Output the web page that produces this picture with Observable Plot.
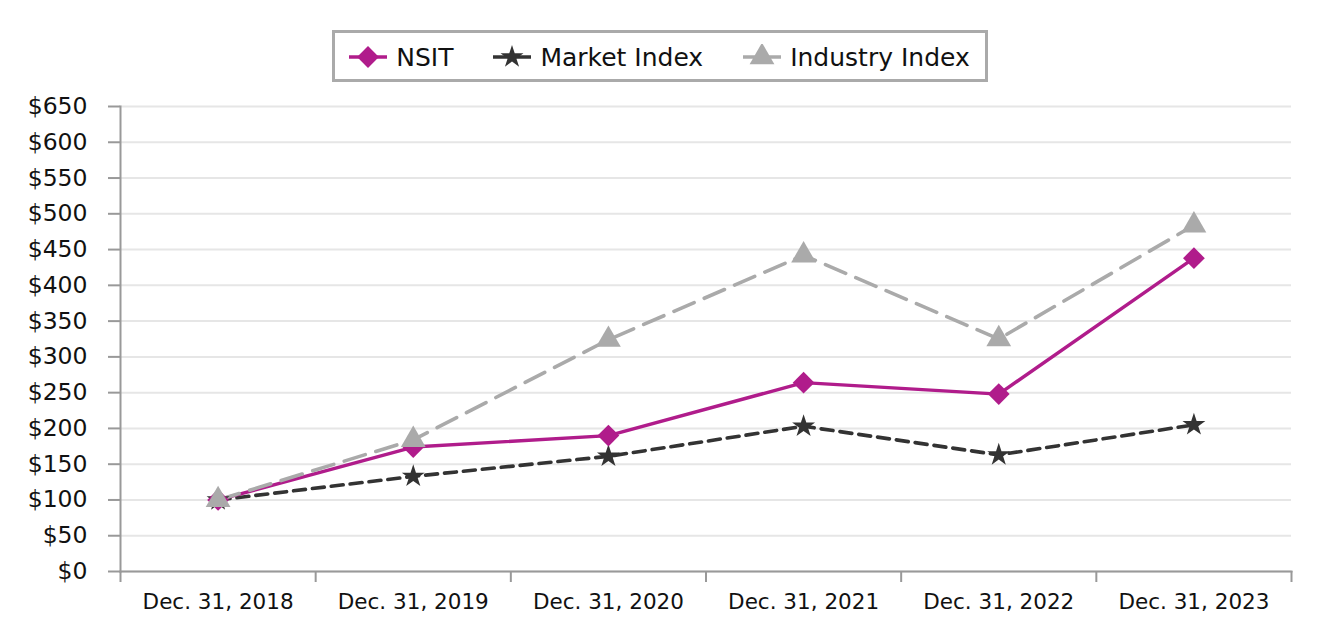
<!DOCTYPE html>
<html>
<head>
<meta charset="utf-8">
<script src="https://cdn.jsdelivr.net/npm/d3@7"></script>
<script src="https://cdn.jsdelivr.net/npm/@observablehq/plot@0.6"></script>
<style>
  html, body { margin: 0; padding: 0; background: #fff; }
  body { width: 1320px; height: 640px; overflow: hidden; font-family: "DejaVu Sans", Verdana, sans-serif; }
  #legendWrap { height: 82px; display: flex; justify-content: center; align-items: flex-end; }
  #legend { box-sizing: border-box; height: 52px; border: 3px solid #aaaaaa; display: flex; align-items: center; padding: 2px 15px 0 14px; font-size: 25px; color: #111; }
  .item { display: flex; align-items: center; }
  .item + .item { margin-left: 40px; }
  .item svg { margin-right: 9px; }
</style>
</head>
<body>
<div id="legendWrap"><div id="legend"></div></div>
<div id="chart"></div>
<script>
const dates = ["Dec. 31, 2018", "Dec. 31, 2019", "Dec. 31, 2020", "Dec. 31, 2021", "Dec. 31, 2022", "Dec. 31, 2023"];
const nsit = [100, 174, 190, 264, 248, 438];
const market = [100, 133, 161, 203, 163, 205];
const industry = [100, 184, 324, 442, 325, 484];
const yTicks = [0, 50, 100, 150, 200, 250, 300, 350, 400, 450, 500, 550, 600, 650];

const seriesInfo = [
  {name: "NSIT", values: nsit, color: "#b01c8b", dash: null, width: 3.4, symbol: "diamond2", r: 9.8},
  {name: "Market Index", values: market, color: "#333333", dash: "12,7", width: 3.6, symbol: "star", r: 7.2},
  {name: "Industry Index", values: industry, color: "#aaaaaa", dash: "22,11", width: 3.6, symbol: "triangle", r: 9.2}
];

const rows = dates.map((d, i) => ({i, date: d}));
const lineMarks = [];
const drawOrder = [seriesInfo[1], seriesInfo[0], seriesInfo[2]];
for (const s of drawOrder) {
  const data = rows.map(r => ({i: r.i, v: s.values[r.i]}));
  lineMarks.push(Plot.line(data, {x: "i", y: "v", stroke: s.color, strokeWidth: s.width, strokeDasharray: s.dash, strokeLinejoin: "miter"}));
}
for (const s of drawOrder) {
  const data = rows.map(r => ({i: r.i, v: s.values[r.i]}));
  lineMarks.push(Plot.dot(data, {x: "i", y: "v", symbol: () => s.symbol, r: s.r, fill: s.color, stroke: "none"}));
}

const chart = Plot.plot({
  width: 1320,
  height: 558,
  marginLeft: 120,
  marginRight: 29,
  marginTop: 24,
  marginBottom: 69,
  style: {fontFamily: "'DejaVu Sans', Verdana, sans-serif", background: "#fff", color: "#111"},
  x: {type: "linear", domain: [-0.5, dates.length - 0.5], axis: null, label: null},
  y: {domain: [0, 650], axis: null, label: null},
  symbol: {type: "identity"},
  marks: [
    Plot.gridY(yTicks, {stroke: "#e6e6e6", strokeWidth: 2, strokeOpacity: 1}),
    Plot.axisY(yTicks, {label: null, tickFormat: d => "$" + d, tickSize: 12, tickPadding: 21, fontSize: 23.5, stroke: "#999", strokeWidth: 2}),
    Plot.axisX(d3.range(-0.5, dates.length, 1), {label: null, tickFormat: () => "", tickSize: 11, stroke: "#999", strokeWidth: 2}),
    Plot.axisX(d3.range(dates.length), {label: null, tickFormat: i => dates[i], tickSize: 0, tickPadding: 22, fontSize: 21.5}),
    Plot.frame({anchor: "left", stroke: "#999", strokeWidth: 2}),
    Plot.frame({anchor: "bottom", stroke: "#999", strokeWidth: 2}),
    ...lineMarks
  ]
});
document.getElementById("chart").appendChild(chart);

// Legend
const legend = document.getElementById("legend");
const symMap = {diamond2: d3.symbolDiamond2, star: d3.symbolStar, triangle: d3.symbolTriangle};
for (const s of seriesInfo) {
  const item = document.createElement("div");
  item.className = "item";
  const sw = d3.create("svg").attr("width", 38).attr("height", 26);
  sw.append("line").attr("x1", 0).attr("x2", 38).attr("y1", 13).attr("y2", 13)
    .attr("stroke", s.color).attr("stroke-width", s.width);
  sw.append("path").attr("transform", "translate(19,13)")
    .attr("d", d3.symbol(symMap[s.symbol], s.r * s.r * Math.PI)())
    .attr("fill", s.color);
  item.appendChild(sw.node());
  const t = document.createElement("span");
  t.textContent = s.name;
  item.appendChild(t);
  legend.appendChild(item);
}
</script>
</body>
</html>
